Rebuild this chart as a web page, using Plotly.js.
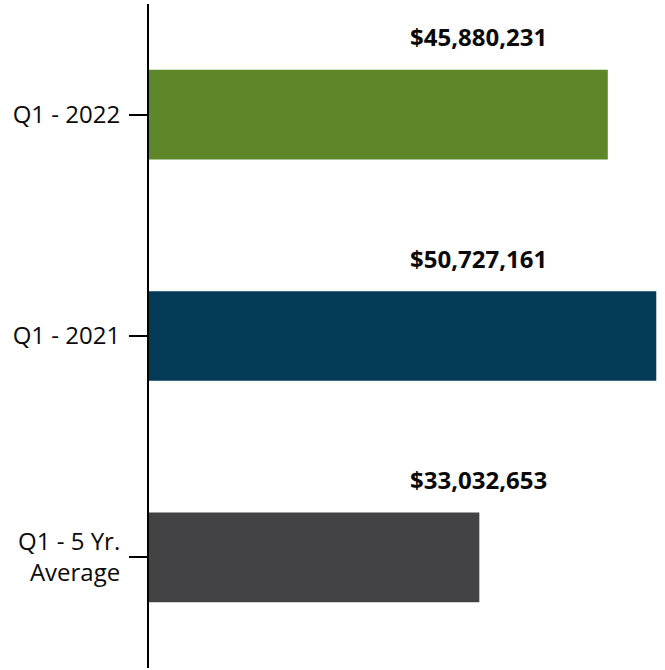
<!DOCTYPE html>
<html>
<head>
<meta charset="utf-8">
<script src="https://cdn.plot.ly/plotly-3.0.1.min.js"></script>
<style>html,body{margin:0;padding:0;background:#fff}#chart{width:665px;height:670px}</style>
</head>
<body>
<div id="chart"></div>
<script>
const categories = ["Q1 - 2022", "Q1 - 2021", "Q1 - 5 Yr.<br>Average"];
const values = [45880231, 50727161, 33032653];
const valueLabels = ["$45,880,231", "$50,727,161", "$33,032,653"];
const colors = ["#5e8729", "#023a58", "#434345"];

const trace = {
  type: "bar",
  orientation: "h",
  y: categories,
  x: values,
  marker: {color: colors},
  width: 0.405,
  hoverinfo: "none"
};

const annotations = categories.map((c, i) => ({
  xref: "paper", yref: "y",
  x: 0.502, y: c,
  xanchor: "left", yanchor: "middle",
  yshift: 78,
  text: "<b>" + valueLabels[i] + "</b>",
  showarrow: false,
  font: {family: "Open Sans, Noto Sans, sans-serif", size: 24, color: "#0a0a0a"}
}));

const layout = {
  width: 665, height: 670,
  margin: {l: 149, r: 0, t: 4, b: 2, pad: 0},
  paper_bgcolor: "#fff", plot_bgcolor: "#fff",
  showlegend: false,
  xaxis: {range: [0, 51.6e6], visible: false, showgrid: false, zeroline: false, fixedrange: true},
  yaxis: {
    type: "category",
    categoryorder: "array", categoryarray: categories,
    range: [2.5, -0.5],
    showline: true, linecolor: "#000", linewidth: 2,
    ticks: "outside", ticklen: 18, tickwidth: 2, tickcolor: "#000",
    ticklabelstandoff: 4,
    showgrid: false, zeroline: false,
    tickfont: {family: "Open Sans, Noto Sans, sans-serif", size: 24, color: "#0a0a0a"}
  },
  annotations: annotations
};

Plotly.newPlot("chart", [trace], layout, {displayModeBar: false, staticPlot: true});
</script>
</body>
</html>
